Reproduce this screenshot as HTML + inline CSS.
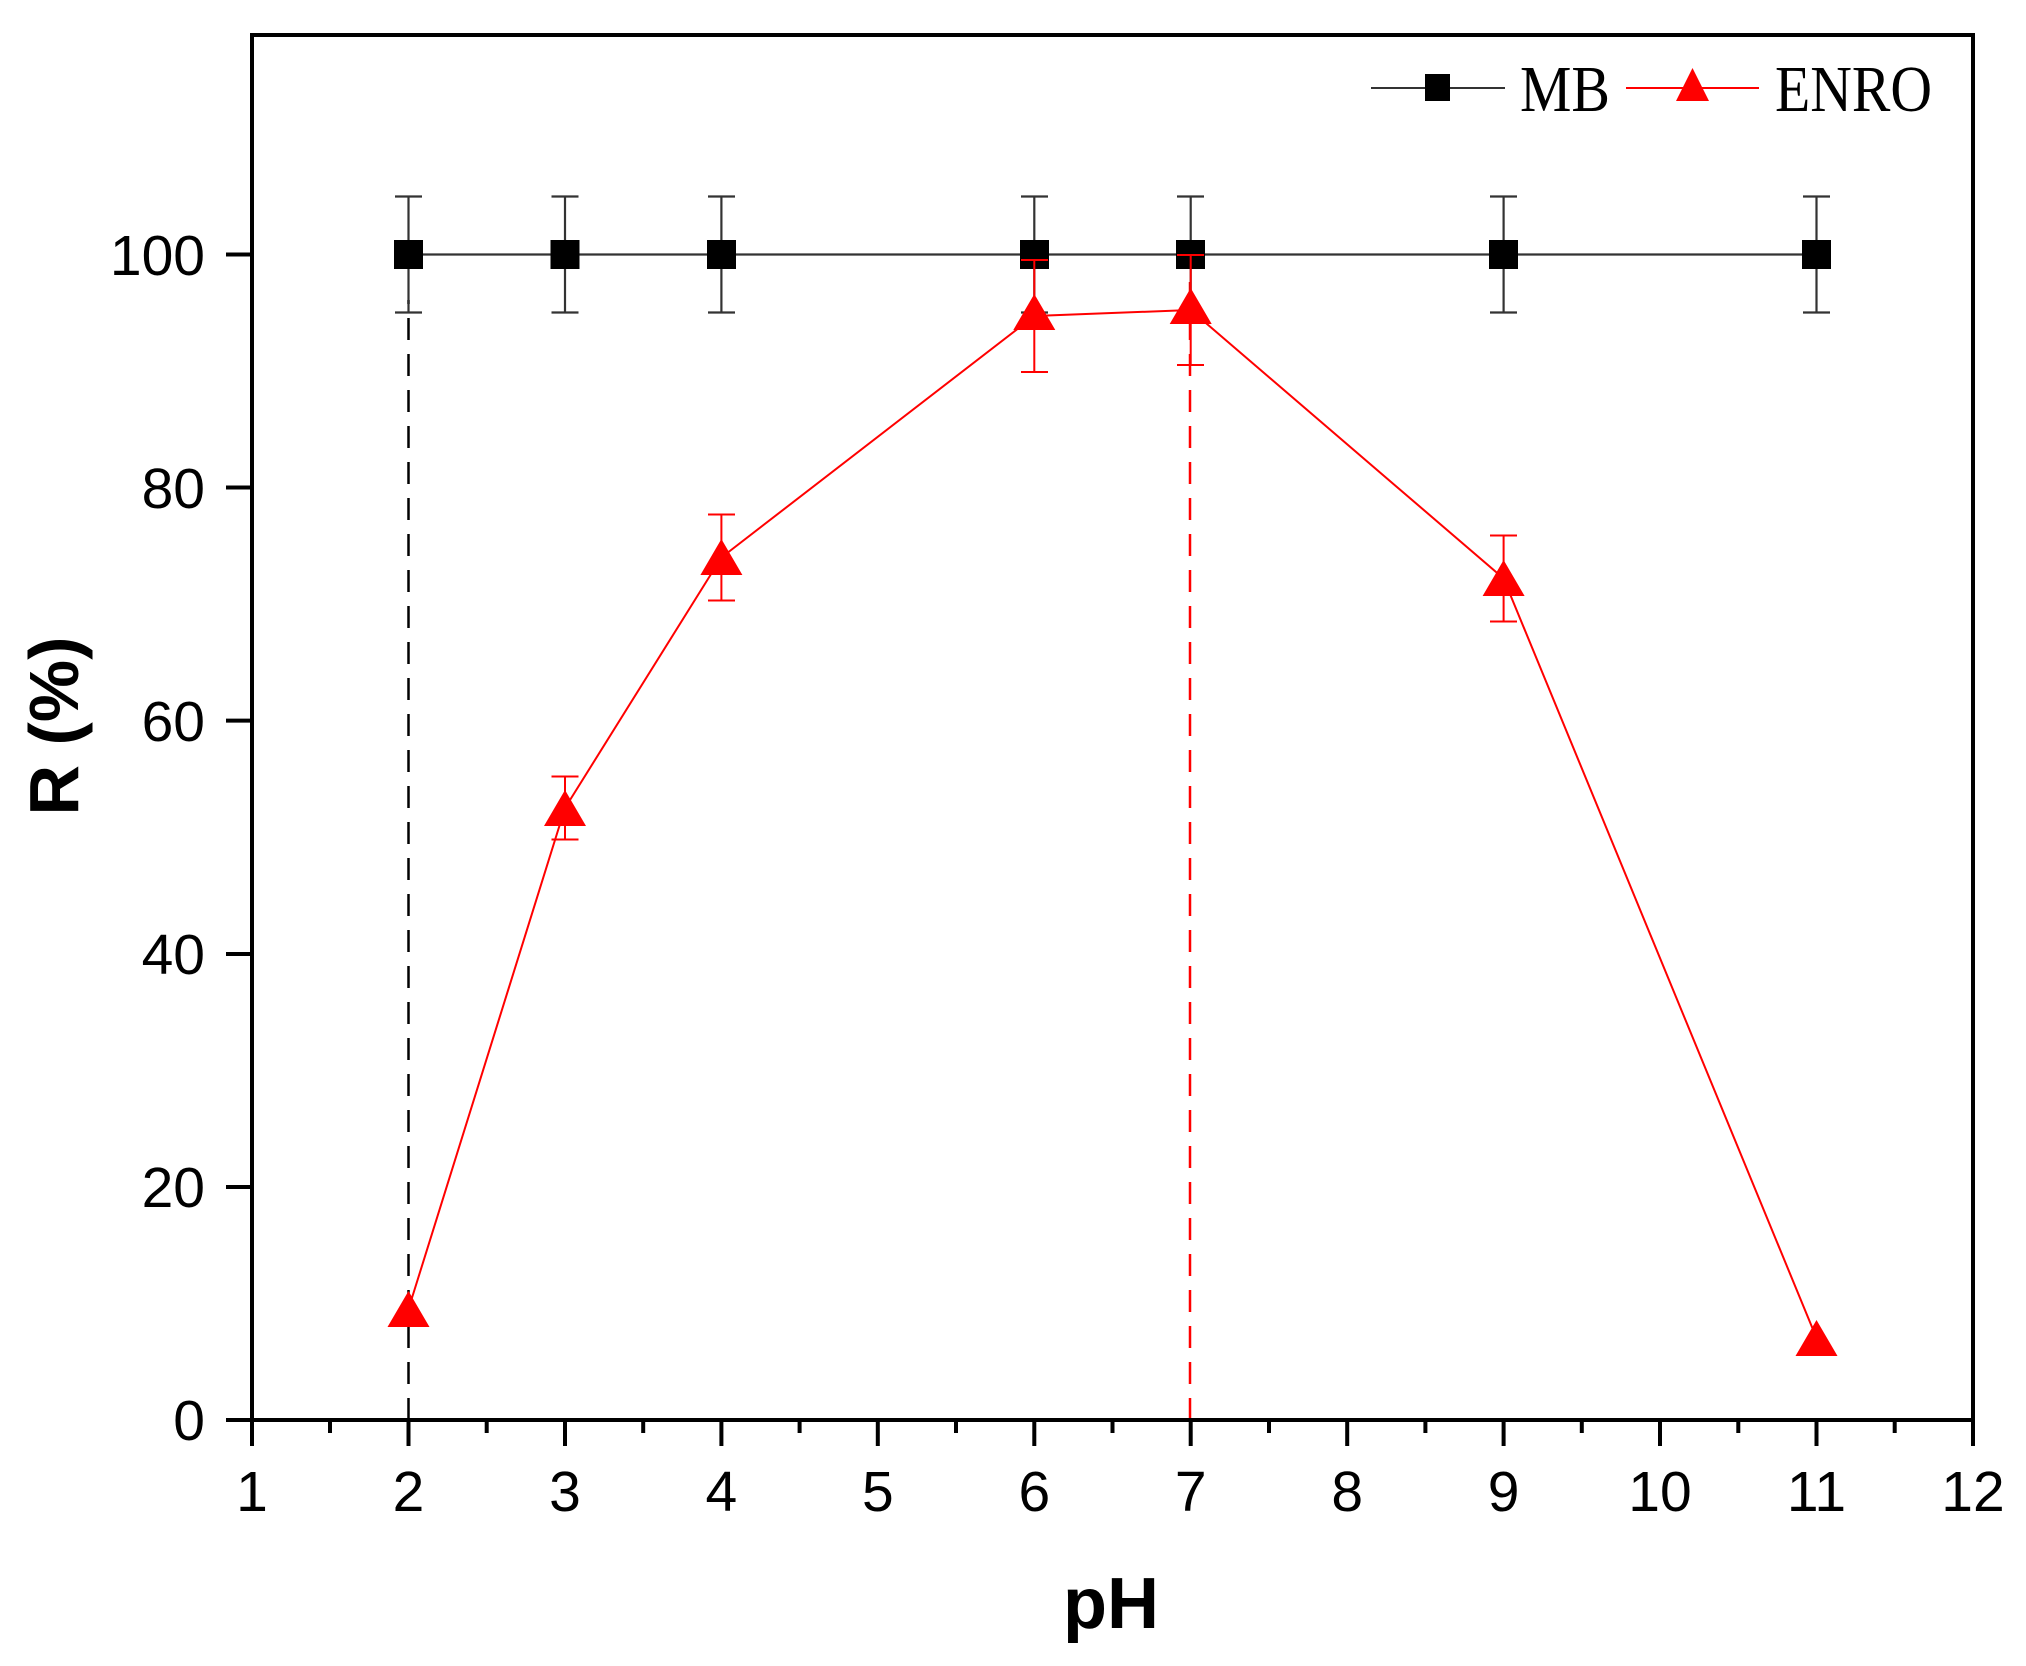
<!DOCTYPE html>
<html><head><meta charset="utf-8"><style>html,body{margin:0;padding:0;background:#fff}svg{display:block}</style></head>
<body>
<svg width="2026" height="1666" viewBox="0 0 2026 1666" xmlns="http://www.w3.org/2000/svg">
<rect width="2026" height="1666" fill="#fff"/>
<line x1="408.5" y1="1420" x2="408.5" y2="300" stroke="#000" stroke-width="2.5" stroke-dasharray="22,14"/>
<line x1="1190" y1="1420" x2="1190" y2="256" stroke="#f00" stroke-width="2.5" stroke-dasharray="22,14"/>
<g stroke="#333" stroke-width="2.2" fill="none">
<line x1="408.5" y1="254.5" x2="1816" y2="254.5"/>
<path d="M408.5 196.5V312.5M395 196.5h27M395 312.5h27"/>
<path d="M565 196.5V312.5M551.5 196.5h27M551.5 312.5h27"/>
<path d="M721.4 196.5V312.5M708 196.5h27M708 312.5h27"/>
<path d="M1034.3 196.5V312.5M1021 196.5h27M1021 312.5h27"/>
<path d="M1190.7 196.5V312.5M1177 196.5h27M1177 312.5h27"/>
<path d="M1503.6 196.5V312.5M1490 196.5h27M1490 312.5h27"/>
<path d="M1816.5 196.5V312.5M1803 196.5h27M1803 312.5h27"/>
</g>
<g fill="#000">
<rect x="394" y="240" width="29" height="29"/>
<rect x="550.5" y="240" width="29" height="29"/>
<rect x="707" y="240" width="29" height="29"/>
<rect x="1020" y="240" width="29" height="29"/>
<rect x="1176" y="240" width="29" height="29"/>
<rect x="1489" y="240" width="29" height="29"/>
<rect x="1802" y="240" width="29" height="29"/>
</g>
<g stroke="#f00" stroke-width="2" fill="none">
<polyline points="408.5,1309 565,808 721.4,557.5 1034.3,316 1190.7,310 1503.6,578.5 1816.5,1338"/>
<path d="M565 776.5V839.5M551.5 776.5h27M551.5 839.5h27"/>
<path d="M721.4 514.5V600.5M708 514.5h27M708 600.5h27"/>
<path d="M1034.3 260V372M1021 260h27M1021 372h27"/>
<path d="M1190.7 255V365M1177 255h27M1177 365h27"/>
<path d="M1503.6 535.5V621.5M1490 535.5h27M1490 621.5h27"/>
</g>
<g fill="#f00">
<polygon points="408.5,1291 429.5,1327 387.5,1327"/>
<polygon points="565,790 586,826 544,826"/>
<polygon points="721.4,539 742.4,575 700.4,575"/>
<polygon points="1034.3,294 1055.3,330 1013.3,330"/>
<polygon points="1190.7,288 1211.7,324 1169.7,324"/>
<polygon points="1503.6,560 1524.6,596 1482.6,596"/>
<polygon points="1816.5,1320 1837.5,1356 1795.5,1356"/>
</g>
<rect x="252" y="35" width="1721" height="1385" fill="none" stroke="#000" stroke-width="4"/>
<g stroke="#000" stroke-width="4">
<path d="M252 1420v26M408.5 1420v26M565 1420v26M721.4 1420v26M877.8 1420v26M1034.3 1420v26M1190.7 1420v26M1347.2 1420v26M1503.6 1420v26M1660 1420v26M1816.5 1420v26M1973 1420v26"/>
<path d="M330 1420v13M486.7 1420v13M643.2 1420v13M799.6 1420v13M956 1420v13M1112.5 1420v13M1269 1420v13M1425.4 1420v13M1581.8 1420v13M1738.3 1420v13M1894.7 1420v13"/>
<path d="M252 1420h-26M252 1187h-26M252 954h-26M252 720.6h-26M252 487.5h-26M252 254.5h-26"/>
</g>
<g font-family="Liberation Sans, Arial, sans-serif" font-size="57" fill="#000" text-anchor="middle">
<text x="252" y="1511">1</text><text x="408.5" y="1511">2</text><text x="565" y="1511">3</text><text x="721.4" y="1511">4</text><text x="877.8" y="1511">5</text><text x="1034.3" y="1511">6</text><text x="1190.7" y="1511">7</text><text x="1347.2" y="1511">8</text><text x="1503.6" y="1511">9</text><text x="1660" y="1511">10</text><text x="1816.5" y="1511">11</text><text x="1973" y="1511">12</text>
</g>
<g font-family="Liberation Sans, Arial, sans-serif" font-size="57" fill="#000" text-anchor="end">
<text x="205" y="1440">0</text><text x="205" y="1207">20</text><text x="205" y="974">40</text><text x="205" y="741">60</text><text x="205" y="508">80</text><text x="205" y="275">100</text>
</g>
<text x="1111" y="1628" font-family="Liberation Sans, Arial, sans-serif" font-weight="bold" font-size="72" text-anchor="middle">pH</text>
<text transform="translate(78,726) rotate(-90)" font-family="Liberation Sans, Arial, sans-serif" font-weight="bold" font-size="70" text-anchor="middle">R (%)</text>
<line x1="1371" y1="88" x2="1505" y2="88" stroke="#333" stroke-width="2"/>
<rect x="1425" y="74" width="25" height="27" fill="#000"/>
<text x="1520" y="111" font-family="Liberation Serif, Times New Roman, serif" font-size="66" textLength="90" lengthAdjust="spacingAndGlyphs">MB</text>
<line x1="1626" y1="88" x2="1759" y2="88" stroke="#f00" stroke-width="2"/>
<polygon points="1692.5,68 1709,101 1676,101" fill="#f00"/>
<text x="1775" y="111" font-family="Liberation Serif, Times New Roman, serif" font-size="66" textLength="157" lengthAdjust="spacingAndGlyphs">ENRO</text>
</svg>
</body></html>
